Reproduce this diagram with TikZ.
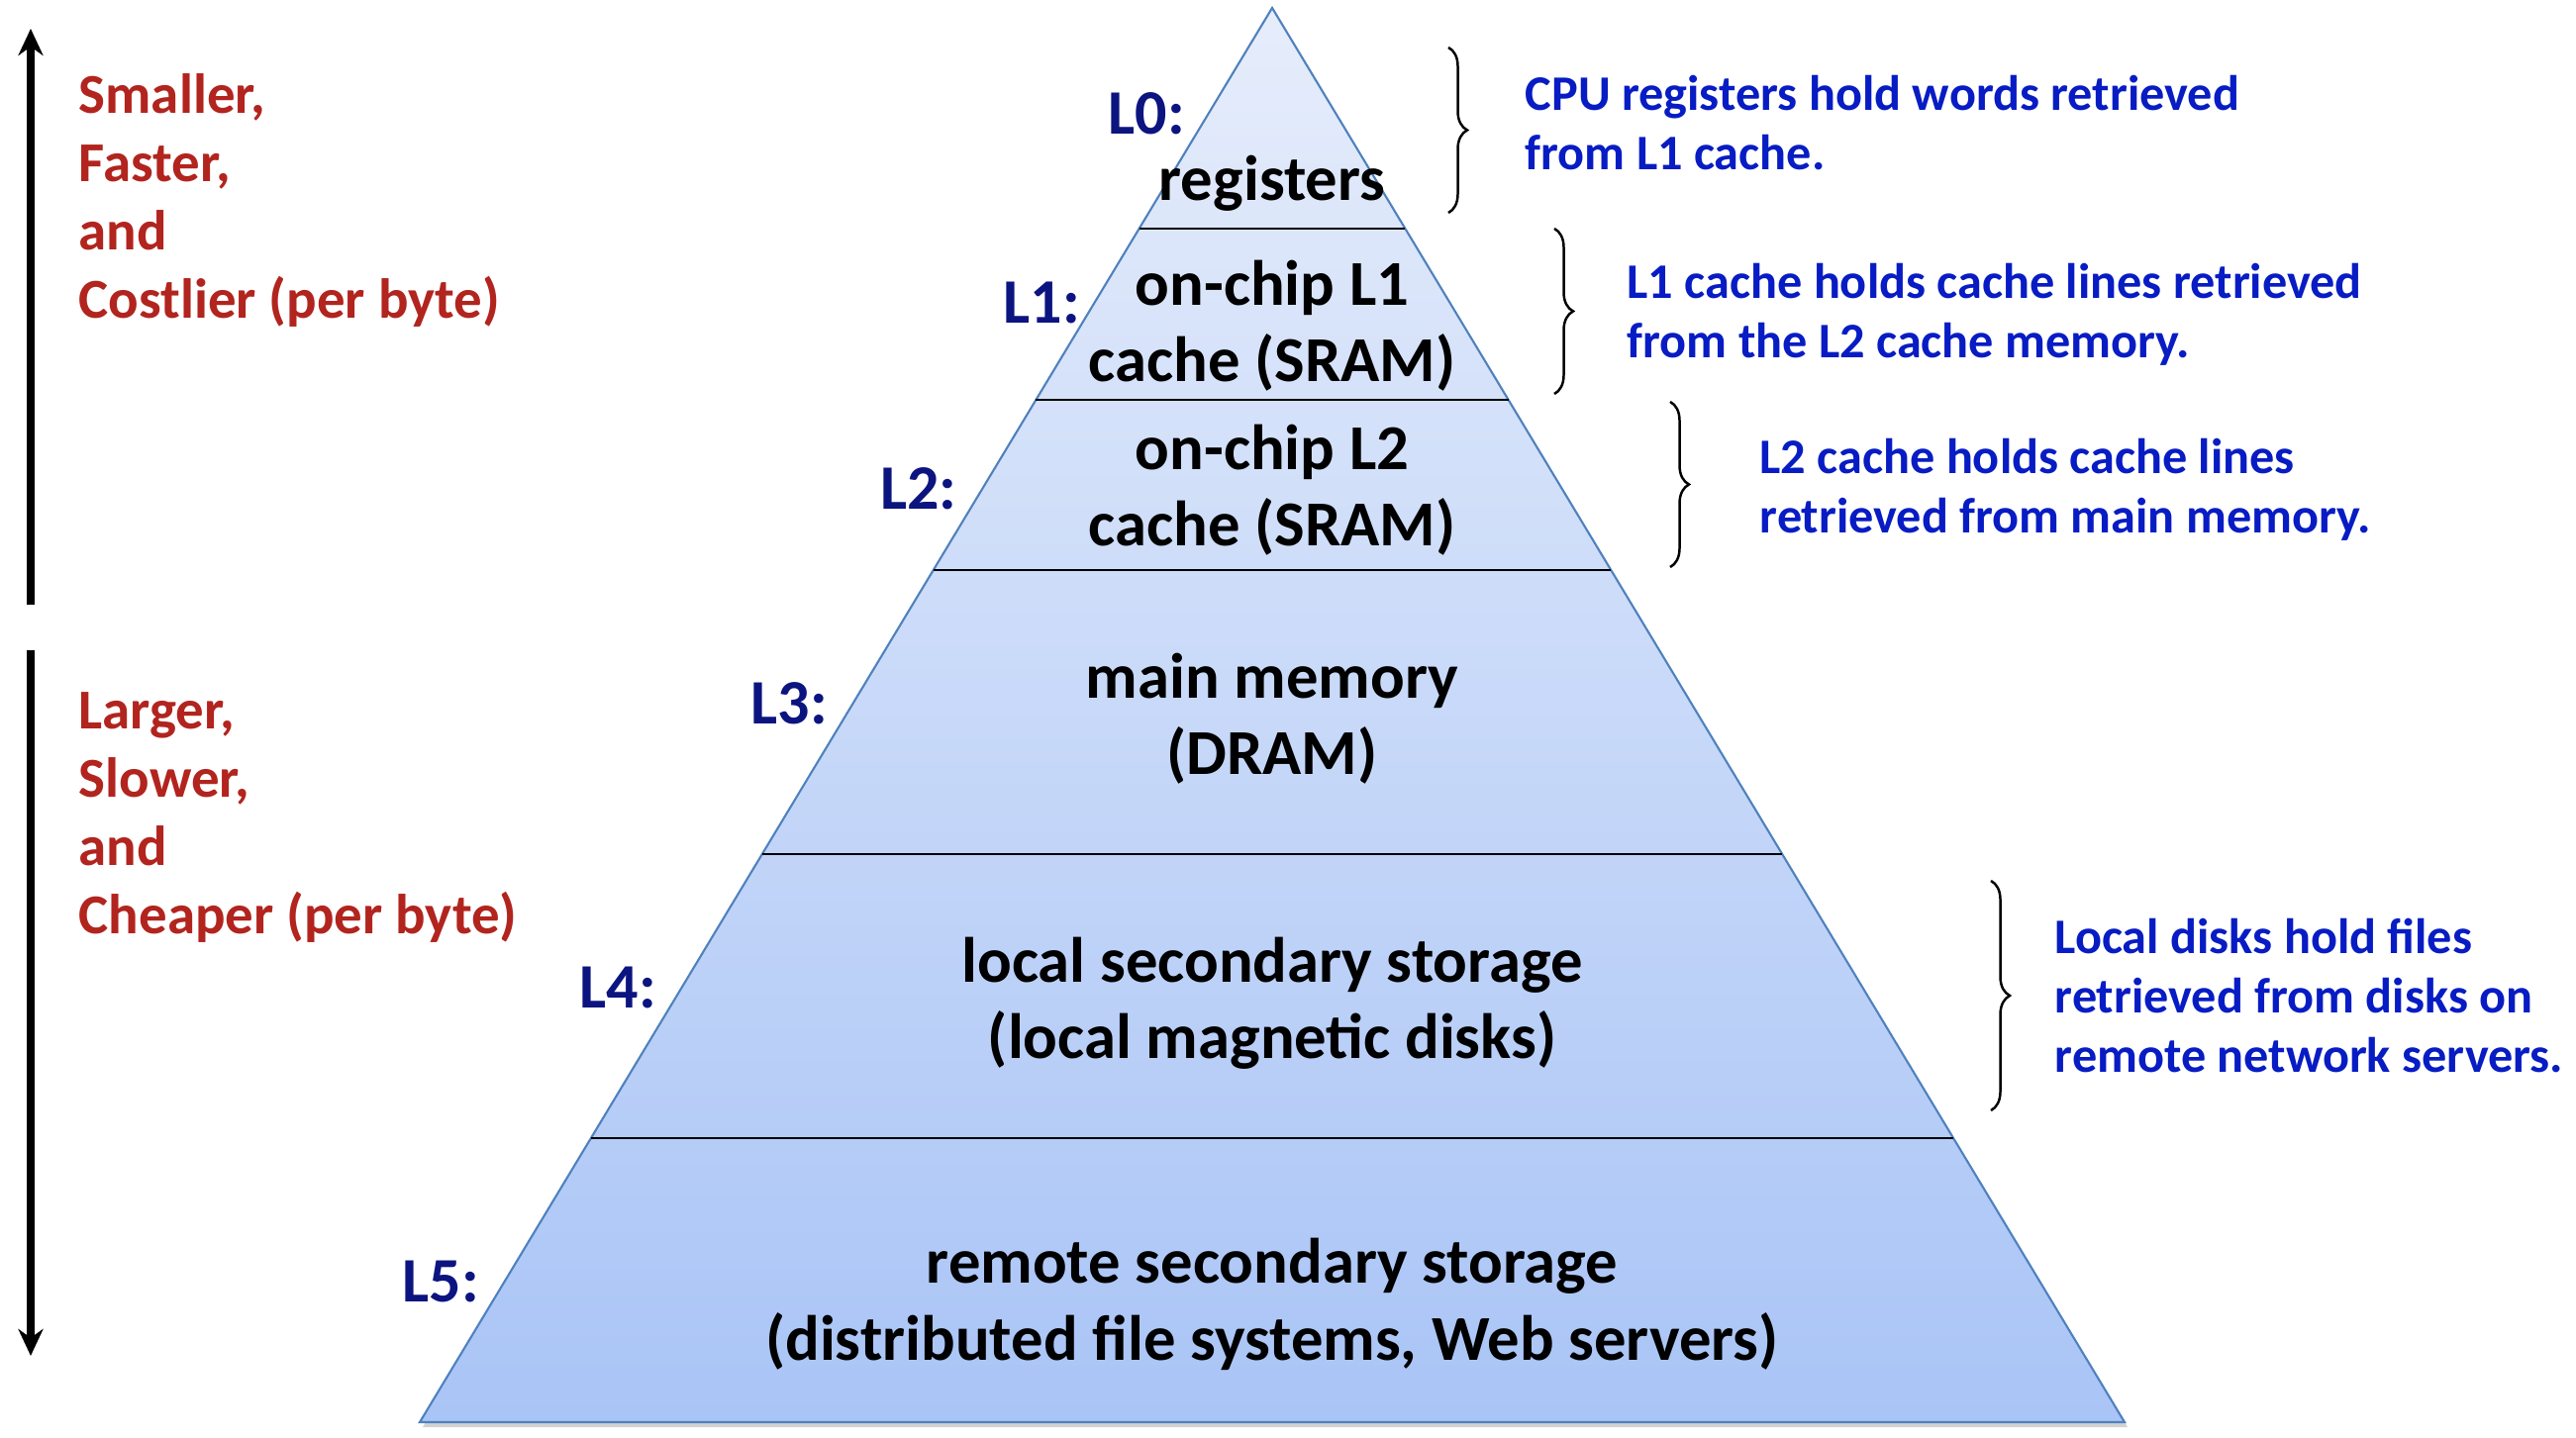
\documentclass[tikz,border=0pt]{standalone}
\usepackage{fontspec}
\setmainfont{Carlito}
\usetikzlibrary{arrows.meta,calc,shadows,decorations.pathreplacing}
\definecolor{mhred}{RGB}{178,36,30}
\definecolor{mhblue}{RGB}{8,28,196}
\definecolor{mhnavy}{RGB}{12,20,128}
\definecolor{mhedge}{RGB}{79,129,189}
\definecolor{mhtop}{RGB}{230,237,251}
\definecolor{mhbottom}{RGB}{169,196,246}
\tikzstyle{arrow} = [line width=2pt,-{Stealth[length=0.27cm,width=0.25cm]}]
\tikzstyle{tier} = [font=\fontsize{18.4}{22}\selectfont\bfseries, align=center, inner sep=0pt]
\tikzstyle{tag} = [font=\fontsize{18.2}{22}\selectfont\bfseries, text=mhnavy, anchor=east, inner sep=0pt]
\tikzstyle{note} = [font=\fontsize{14.3}{17}\selectfont\bfseries, text=mhblue, align=left, anchor=west, inner sep=0pt]
\tikzstyle{trend} = [font=\fontsize{16.2}{19.6}\selectfont\bfseries, text=mhred, align=left, anchor=north west, inner sep=0pt]
\tikzstyle{brace} = [decorate, decoration={brace, amplitude=0.19cm}, line width=0.7pt]

\begin{document}
\begin{tikzpicture}
\useasboundingbox (0,0) rectangle (26.02,14.52);

% pyramid
\coordinate (apex) at (12.85,14.44);
\coordinate (bl) at (4.24,0.15);
\coordinate (br) at (21.46,0.15);
\draw[mhedge, line width=0.6pt, top color=mhtop, bottom color=mhbottom,
  drop shadow={shadow xshift=0.03cm, shadow yshift=-0.05cm, fill=black!35}]
  (apex) -- (br) -- (bl) -- cycle;
\foreach \t in {0.1561,0.2771,0.3975,0.5983,0.7992}
  \draw[line width=0.8pt] ($(apex)!\t!(bl)$) -- ($(apex)!\t!(br)$);

% level tags
\foreach \t/\i/\dx in {0.0749/0/-0.23,0.2085/1/-0.14,0.3401/2/-0.25,0.4920/3/-0.25,0.6928/4/-0.25,0.9006/5/-0.25}
  \node[tag] (tag\i) at ($(apex)!\t!(bl)+(\dx,0)$) {L\i:};

% level contents
\node[tier] (lev0) at (12.85,12.67) {registers};
\node[tier] (lev1) at (12.85,11.23) {on-chip L1\\cache (SRAM)};
\node[tier] (lev2) at (12.85,9.57) {on-chip L2\\cache (SRAM)};
\node[tier] (lev3) at (12.85,7.26) {main memory\\(DRAM)};
\node[tier] (lev4) at (12.85,4.38) {local secondary storage\\(local magnetic disks)};
\node[tier] (lev5) at (12.85,1.34) {remote secondary storage\\(distributed file systems, Web servers)};

% left side
\draw[arrow] (0.31,8.41) -- (0.31,14.23);
\draw[arrow] (0.31,7.95) -- (0.31,0.82);
\node[trend] (up) at (0.79,13.78) {Smaller,\\Faster,\\and\\Costlier (per byte)};
\node[trend] (down) at (0.79,7.53) {Larger,\\Slower,\\and\\Cheaper (per byte)};

% right side
\draw[brace] (14.63,14.04) -- (14.63,12.37);
\draw[brace] (15.70,12.21) -- (15.70,10.54);
\draw[brace] (16.87,10.46) -- (16.87,8.79);
\draw[brace] (20.11,5.62) -- (20.11,3.30);
\node[note] (note0) at (15.40,13.28) {CPU registers hold words retrieved\\from L1 cache.};
\node[note] (note1) at (16.43,11.34) {L1 cache holds cache lines retrieved\\from the L2 cache memory.};
\node[note] (note2) at (17.77,9.57) {L2 cache holds cache lines\\retrieved from main memory.};
\node[note] (note4) at (20.75,4.46) {Local disks hold files\\retrieved from disks on\\remote network servers.};
\end{tikzpicture}
\end{document}
